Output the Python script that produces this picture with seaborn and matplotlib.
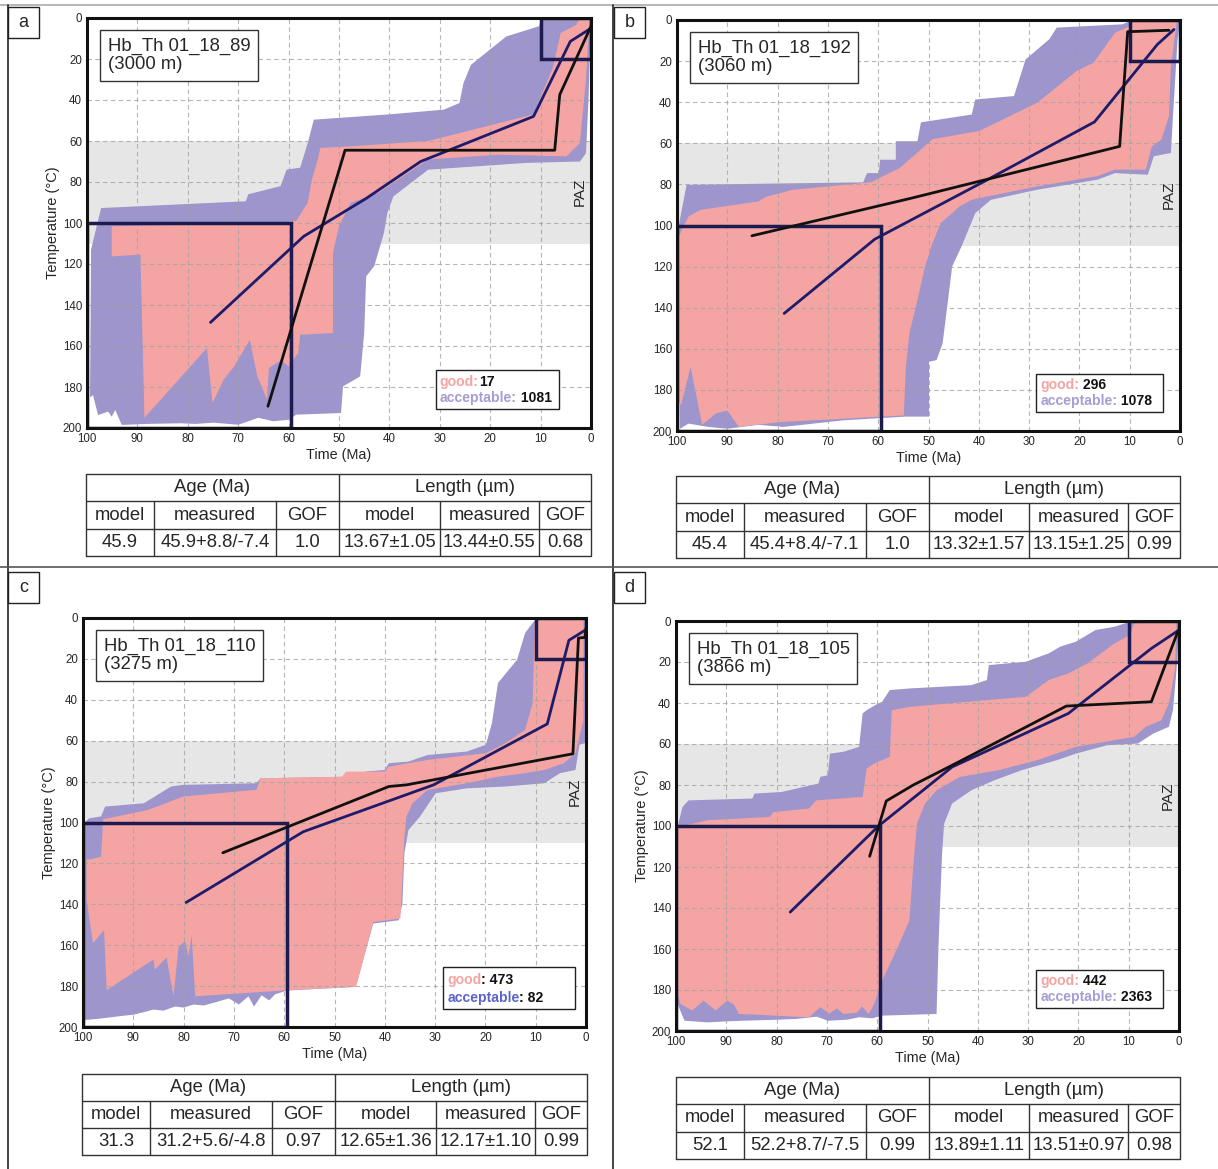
import matplotlib
matplotlib.use("Agg")
import matplotlib.pyplot as plt
from matplotlib.patches import Rectangle
from matplotlib.lines import Line2D
import seaborn as sns

# ---------------- data ----------------
PANELS = ["a", "b", "c", "d"]
SAMPLES = ["Hb_Th 01_18_89", "Hb_Th 01_18_192", "Hb_Th 01_18_110", "Hb_Th 01_18_105"]
DEPTHS = ["(3000 m)", "(3060 m)", "(3275 m)", "(3866 m)"]

GOOD_LABEL = ["good:", "good:", "good", "good:"]
GOOD_NUM = ["17", " 296", ": 473", " 442"]
ACC_LABEL = ["acceptable:", "acceptable:", "acceptable", "acceptable:"]
ACC_NUM = [" 1081", " 1078", ": 82", " 2363"]

AGE_MODEL = ["45.9", "45.4", "31.3", "52.1"]
AGE_MEAS = ["45.9+8.8/-7.4", "45.4+8.4/-7.1", "31.2+5.6/-4.8", "52.2+8.7/-7.5"]
AGE_GOF = ["1.0", "1.0", "0.97", "0.99"]
LEN_MODEL = ["13.67±1.05", "13.32±1.57", "12.65±1.36", "13.89±1.11"]
LEN_MEAS = ["13.44±0.55", "13.15±1.25", "12.17±1.10", "13.51±0.97"]
LEN_GOF = ["0.68", "0.99", "0.99", "0.98"]

PAZ = (60, 110)
BOX_OLD = (59.5, 100, 100, 200)   # t young, t old, T top, T bottom
BOX_YOUNG = (0, 10, 0, 20)

# envelopes: outline (time Ma, temperature C)
A_ACC = [(99.2, 113), (97.2, 92.7), (68.5, 89.4), (68.0, 86), (61.6, 82), (60.4, 74), (57.7, 73),
         (56.2, 61), (55.0, 49.6), (40.0, 47), (29.2, 44.7), (26.1, 41.5), (25.3, 31.7), (23.8, 22.8),
         (16.8, 9), (10.3, 4), (9.9, 0), (0, 0), (0.5, 40), (1.0, 66), (2.2, 70), (13, 70.7),
         (32.3, 74), (39.2, 87), (40.4, 95), (41.1, 105), (43, 121), (44.6, 126), (45, 153.7),
         (45.8, 174.8), (49.2, 179.7), (49.6, 192.7), (58.5, 193.5), (60, 196), (63.1, 196.7),
         (66, 195), (68.3, 197), (70, 198.4), (74.9, 197.4), (78.5, 198), (81.5, 197.7), (88.1, 198),
         (93.1, 198.5), (94.4, 191.2), (95.1, 194.5), (95.8, 192), (97.8, 193.7), (98.8, 184), (99.4, 185)]
A_GOOD = [(95.1, 116.3), (95.1, 101.6), (62.3, 100), (58.5, 99), (56.2, 90), (55.4, 78.9), (54.2, 69),
          (53.7, 63.4), (47.7, 62.6), (32.3, 60), (11.4, 47), (7.6, 24.4), (6.0, 7.3), (2.9, 3.3),
          (2.2, 0), (0.3, 0), (1.0, 30), (2.2, 61), (4.9, 67.5), (18.4, 66.7), (32.3, 69), (42.3, 85.4),
          (47.7, 90.2), (50.0, 101.6), (51.2, 114.6), (51.2, 153.7), (57.7, 154.5), (58.1, 163.4),
          (60.0, 170), (61.5, 167), (63.9, 170.7), (64.3, 186), (66.2, 174.8), (67.7, 157), (70.8, 170),
          (72.8, 176), (75.1, 187.8), (76.2, 161), (88.6, 195), (89.4, 115.4)]
B_ACC = [(99.8, 102), (98.1, 80.2), (63, 79), (62.2, 74.5), (59.9, 74.5), (59.6, 68), (56.5, 68),
         (56.5, 59), (52.2, 59), (51.5, 49.8), (41.4, 46), (40.7, 38.7), (33, 37), (30.7, 19.2),
         (26, 9.4), (24.5, 3.7), (11.4, 2.1), (9.5, 0), (0, 0), (0.5, 10), (1.4, 46.8), (1.8, 64.7),
         (5.2, 66.3), (6.4, 75.3), (12.9, 74.5), (16.4, 77.7), (28.4, 82.6), (37.6, 87.5), (40.7, 94),
         (41.8, 100.5), (43.4, 110), (45.3, 120), (46.1, 136), (47.2, 157.4), (48.4, 165.5),
         (49.9, 166.3), (49.9, 193), (54.5, 193), (66.9, 194.8), (78.8, 198), (83.8, 197), (90, 198.9),
         (93.8, 198), (97.7, 196.4), (99.4, 198.9)]
B_GOOD = [(99.8, 106), (97.7, 95.6), (95.4, 92.4), (83.8, 88.3), (82.3, 86), (76.9, 82.6), (61.5, 79),
          (55.7, 72), (51.5, 63), (49.2, 58), (39.9, 54), (35.3, 48.5), (28.4, 40.3), (20.6, 24.9),
          (17.2, 20.8), (12.9, 6.2), (9.9, 2.9), (9.1, 0), (0.6, 0), (1.8, 22.4), (2.2, 46.8),
          (3.7, 58.2), (5.6, 61.5), (6.8, 72.8), (12.9, 72.8), (16.4, 76), (28.4, 81), (38.4, 85.9),
          (41.4, 87.5), (43.8, 90.7), (45.3, 94), (47.6, 98.9), (49.2, 108.6), (50.7, 120),
          (52.2, 136.3), (53.8, 152.5), (54.5, 168.8), (54.9, 192.4), (66.9, 194), (79.2, 195.6),
          (87.7, 198), (90, 190), (92.3, 191.5), (95, 197), (97.3, 168.8), (99.2, 187.5), (99.8, 185)]
C_ACC = [(99.8, 100.4), (98.8, 98), (96.4, 97), (95.6, 92.2), (87.9, 90.6), (82.5, 82.4), (80.1, 81.6),
         (65.5, 80.8), (64.7, 78.4), (46.9, 77.6), (43.8, 75.1), (40, 74.3), (39.2, 71), (35.3, 70.2),
         (31.5, 67), (23.7, 65.3), (19.9, 62), (18.7, 51.4), (17.5, 31.8), (13.7, 20.4), (12.1, 7.3),
         (10.6, 2.4), (9.8, 0), (0, 0), (0.2, 61.2), (1.3, 62), (2.1, 74.3), (5.2, 75.9), (8.3, 80.8),
         (16, 82.4), (23.7, 83.3), (29.9, 85.7), (33, 97.1), (35.3, 103.7), (36.1, 115), (36.5, 139.6),
         (37.2, 147.8), (42.3, 149.4), (45.4, 177), (46.1, 180.4), (59.5, 182.2), (61.8, 184),
         (63, 187), (64.5, 184.5), (66, 190), (67.1, 185), (69, 189), (71, 186), (73.8, 188), (76, 189.5),
         (78, 189), (80, 190.5), (81.7, 190), (84, 192), (86, 191.5), (88.3, 193), (90, 194),
         (92, 194.5), (95.3, 195.5), (97, 196), (99.8, 196.6)]
C_GOOD = [(99.3, 118), (98.5, 118), (96.4, 116.7), (96, 98.4), (87.1, 93.9), (80.1, 87.3), (65.5, 84),
          (64.7, 78.4), (48.5, 77.6), (47.7, 75.1), (40, 75.1), (39.2, 72.7), (31.5, 69.4), (19.9, 66.1),
          (16, 61.2), (12.1, 54.7), (10.6, 41.6), (10.2, 2.4), (9, 0.8), (0.5, 0.8), (0.5, 49.8),
          (2.1, 66.1), (4.4, 71), (8.3, 74.3), (12.1, 75.9), (17.5, 77.6), (23.7, 80.8), (31.5, 84.1),
          (34.5, 90.6), (35.7, 97.1), (36.1, 106.9), (36.9, 147), (42.3, 148.6), (45.7, 180.4),
          (59.2, 182), (77.7, 185), (78.4, 155), (79, 165.5), (79.7, 158), (81, 160.7), (82, 185),
          (83.4, 166), (85.7, 172), (86, 167), (95.3, 182), (95.8, 152.6), (98, 159), (99.3, 138)]
D_ACC = [(99.7, 100.5), (98.7, 90.7), (97.5, 87.5), (84.8, 86.6), (84.4, 84.2), (79, 83.4), (71.7, 79.3),
         (71.3, 76), (69.8, 75.2), (69.4, 64.7), (66.7, 63.8), (63.6, 61.4), (62.9, 45.1), (62.1, 43.5),
         (59.8, 40.2), (59, 39.4), (57.5, 33.7), (53.6, 32.9), (41.3, 31.3), (38.2, 28.8), (37.8, 21.5),
         (30.5, 19.9), (25.9, 15.8), (23.6, 12.5), (20.5, 10.1), (16.6, 4.4), (12.8, 2.8), (9.7, 0.3),
         (0, 0), (0.5, 24), (1.2, 43.5), (2, 51.6), (5.1, 54.9), (8.2, 59.8), (14.3, 60.6), (20.5, 64.7),
         (24.3, 67.9), (31.3, 72.8), (36.7, 77.7), (41.3, 82.6), (45.1, 89), (46.7, 98.9), (47.1, 113.5),
         (47.5, 138), (47.8, 157.5), (48.2, 191.7), (59, 192.5), (61, 193.8), (63.6, 193.3), (66, 194.5),
         (69.8, 195), (72, 193), (76, 194.1), (80, 194.5), (86.7, 195), (90, 195.3), (93.7, 195.8),
         (98.3, 195), (99.7, 186.8)]
D_GOOD = [(99.7, 100.5), (93.7, 97.2), (81.4, 95.6), (80.6, 93.2), (73.6, 91.5), (72.1, 87.5),
          (62.9, 85.8), (62.1, 72), (60.6, 69.5), (57.5, 66.3), (57.1, 43.5), (53.6, 41.9), (38.2, 38.6),
          (30.5, 37), (25.9, 28.8), (22, 25.6), (18.2, 20.7), (12.8, 10.9), (9.7, 6.8), (8.9, 1.1),
          (0.5, 0.3), (0.8, 24), (2, 40.2), (3.5, 48.4), (6.6, 51.6), (8.9, 56.5), (12.8, 58.1),
          (20.5, 61.4), (28.2, 67.9), (35.9, 72.8), (43.6, 76.1), (48.2, 82.6), (50.5, 89.1),
          (52.1, 98.9), (52.9, 121.7), (53.6, 146.1), (55.9, 159.1), (59, 175.4), (60.6, 186.8),
          (61.7, 191.7), (63, 188), (64, 191), (66.7, 191.7), (68, 189), (69.5, 191.5), (71.3, 188.4),
          (73.6, 193.3), (80.6, 192.5), (84, 192), (87.5, 191.7), (88.5, 187), (89.8, 185.2),
          (92.1, 190), (94.5, 185.2), (96.8, 190), (99.1, 186.8), (99.7, 181.9)]

# weighted mean path (blue) and best fit path (black)
A_BLUE_T = [75.5, 57, 44.6, 33.8, 11.4, 4.1, 0]
A_BLUE_Y = [148.5, 106.5, 88, 70, 48, 11.4, 5]
A_BLACK_T = [64.1, 48.8, 7.2, 6.2, 0]
A_BLACK_Y = [189.4, 64.5, 64.5, 37.4, 4]
B_BLUE_T = [78.7, 60.7, 38.5, 17.0, 4.5, 1.2]
B_BLUE_Y = [142.8, 106.7, 78, 49.6, 11.9, 4.6]
B_BLACK_T = [85.1, 53.4, 12.0, 10.4, 2.2]
B_BLACK_Y = [105, 86.7, 61.5, 5.7, 5.0]
C_BLUE_T = [79.5, 56.2, 30.3, 7.7, 3.4, 0]
C_BLUE_Y = [139.1, 104.5, 81.6, 51.8, 10.9, 5.7]
C_BLACK_T = [72.2, 39.2, 35.7, 2.6, 1.5, 0.2, 0]
C_BLACK_Y = [114.8, 82.4, 81.6, 66.4, 9.8, 9.5, 5]
D_BLUE_T = [77.3, 59.6, 45.1, 22.0, 5.5, 0]
D_BLUE_Y = [142, 99.7, 71.2, 45.1, 13.4, 4.4]
D_BLACK_T = [61.5, 58.2, 52.9, 44.4, 22.4, 5.5, 0.2]
D_BLACK_Y = [114.8, 87.8, 80.1, 69.5, 41.5, 39.4, 4.9]

ACC_ENV = [A_ACC, B_ACC, C_ACC, D_ACC]
GOOD_ENV = [A_GOOD, B_GOOD, C_GOOD, D_GOOD]
BLUE = [(A_BLUE_T, A_BLUE_Y), (B_BLUE_T, B_BLUE_Y), (C_BLUE_T, C_BLUE_Y), (D_BLUE_T, D_BLUE_Y)]
BLACK = [(A_BLACK_T, A_BLACK_Y), (B_BLACK_T, B_BLACK_Y), (C_BLACK_T, C_BLACK_Y), (D_BLACK_T, D_BLACK_Y)]

# ---------------- layout ----------------
W, H = 1218, 1169
AX_PX = [(87, 18, 591, 428), (677, 20, 1180, 431), (83, 618, 586, 1027), (676, 621, 1179, 1031)]
TAB_PX = [(86, 474, 591, 556), (676, 476, 1180, 558), (82, 1074, 587, 1155), (676, 1077, 1180, 1159)]
LABEL_PX = [(8, 7), (614, 7), (8, 572), (614, 572)]
LEG_BOX = [(0.692, 0.046, 0.245, 0.095), (0.714, 0.046, 0.252, 0.093),
           (0.716, 0.044, 0.262, 0.103), (0.716, 0.056, 0.252, 0.093)]
COL_EDGES = [0, 0.135, 0.376, 0.501, 0.701, 0.897, 1.0]

PINK = "#f4a5a3"
PURPLE = "#9d95cb"
ACC_TXT = ["#a69ed3", "#a69ed3", "#5c63cc", "#a69ed3"]
NAVY = "#1e1b6b"
BOXC = "#1c1a4f"

sns.set_style("white")
plt.rcParams["font.family"] = ["Liberation Sans", "DejaVu Sans"]

fig = plt.figure(figsize=(W / 100, H / 100), dpi=100)


def fx(x):
    return x / W


def fy(y):
    return 1 - y / H


# frame lines
for (x0, y0, x1, y1, c) in [(0, 5, W, 5, "#aaaaaa"), (8, 5, 8, H, "#222222"),
                            (613, 5, 613, H, "#222222"), (0, 567, W, 567, "#555555")]:
    fig.add_artist(Line2D([fx(x0), fx(x1)], [fy(y0), fy(y1)], color=c, lw=1.2))

for i in range(4):
    x0, y0, x1, y1 = AX_PX[i]
    ax = fig.add_axes([fx(x0), fy(y1), fx(x1 - x0), (y1 - y0) / H])
    ax.axhspan(PAZ[0], PAZ[1], color="#e6e6e6", lw=0, zorder=0.5)
    ax.fill([p[0] for p in ACC_ENV[i]], [p[1] for p in ACC_ENV[i]], color=PURPLE, lw=0, zorder=1)
    ax.fill([p[0] for p in GOOD_ENV[i]], [p[1] for p in GOOD_ENV[i]], color=PINK, lw=0, zorder=1.1)

    for (ty, to, Tt, Tb) in [BOX_OLD, BOX_YOUNG]:
        ax.add_patch(Rectangle((ty, Tt), to - ty, Tb - Tt, fill=False, ec=BOXC, lw=2.5, zorder=3.5))

    sns.lineplot(x=BLUE[i][0], y=BLUE[i][1], sort=False, estimator=None, color=NAVY, lw=2, ax=ax, zorder=4)
    sns.lineplot(x=BLACK[i][0], y=BLACK[i][1], sort=False, estimator=None, color="#111111", lw=2, ax=ax, zorder=4.1)

    ax.set_xlim(100, 0)
    ax.set_ylim(200, 0)
    ax.set_xticks(range(0, 101, 10))
    ax.set_yticks(range(0, 201, 20))
    ax.grid(True, color="#a3a3a3", ls=(0, (4, 3)), lw=0.8, alpha=0.8)
    ax.set_axisbelow(False)
    ax.tick_params(labelsize=8.3, length=0, pad=3.5)
    for s in ax.spines.values():
        s.set_linewidth(2.2)
        s.set_color("#111111")
        s.set_zorder(5)
    ax.set_xlabel("Time (Ma)", fontsize=10.4, labelpad=2.5)
    if i != 1:
        ax.set_ylabel("Temperature (°C)", fontsize=10.5, labelpad=2)
    else:
        ax.set_ylabel("")

    ax.text(2.3, 85, "PAZ", rotation=90, ha="center", va="center", fontsize=11, zorder=6)

    ax.text(0.041, 0.952, SAMPLES[i] + "\n" + DEPTHS[i], transform=ax.transAxes, ha="left", va="top",
            fontsize=13.3, linespacing=1.1, zorder=7,
            bbox=dict(boxstyle="square,pad=0.4", fc="white", ec="#333333", lw=1))

    # legend box
    lx, ly, lw_, lh = LEG_BOX[i]
    ax.add_patch(Rectangle((lx, ly), lw_, lh, transform=ax.transAxes, fc="white", ec="#222222",
                           lw=1, zorder=6))
    for row, (lab, num, col) in enumerate([(GOOD_LABEL[i], GOOD_NUM[i], PINK),
                                           (ACC_LABEL[i], ACC_NUM[i], ACC_TXT[i])]):
        yy = ly + lh * (0.52 if row == 0 else 0.1)
        t = ax.text(lx + 0.008, yy, lab, transform=ax.transAxes, color=col, fontsize=10.1,
                    fontweight="bold", va="bottom", ha="left", zorder=7)
        ax.annotate(num, xy=(1, 0), xycoords=t, va="bottom", ha="left", fontsize=10.1,
                    fontweight="bold", color="#111111", zorder=7)

    # panel letter
    lxp, lyp = LABEL_PX[i]
    fig.add_artist(Rectangle((fx(lxp), fy(lyp + 31)), 31 / W, 31 / H, transform=fig.transFigure,
                             fc="white", ec="#222222", lw=1))
    fig.text(fx(lxp + 15.5), fy(lyp + 15.5), PANELS[i], ha="center", va="center", fontsize=13)

    # table
    x0, y0, x1, y1 = TAB_PX[i]
    tb = fig.add_axes([fx(x0), fy(y1), fx(x1 - x0), (y1 - y0) / H])
    tb.set_xlim(0, 1)
    tb.set_ylim(0, 3)
    tb.axis("off")
    lc = dict(color="#333333", lw=1)
    tb.plot([0, 1, 1, 0, 0], [0, 0, 3, 3, 0], **lc, clip_on=False)
    tb.plot([0, 1], [1, 1], **lc)
    tb.plot([0, 1], [2, 2], **lc)
    for e in COL_EDGES[1:-1]:
        top = 3 if e == COL_EDGES[3] else 2
        tb.plot([e, e], [0, top], **lc)
    tb.text(COL_EDGES[3] / 2, 2.5, "Age (Ma)", ha="center", va="center", fontsize=13.3)
    tb.text((COL_EDGES[3] + 1) / 2, 2.5, "Length (µm)", ha="center", va="center", fontsize=13.3)
    heads = ["model", "measured", "GOF", "model", "measured", "GOF"]
    vals = [AGE_MODEL[i], AGE_MEAS[i], AGE_GOF[i], LEN_MODEL[i], LEN_MEAS[i], LEN_GOF[i]]
    for k in range(6):
        cx = (COL_EDGES[k] + COL_EDGES[k + 1]) / 2
        tb.text(cx, 1.5, heads[k], ha="center", va="center", fontsize=13.3)
        tb.text(cx, 0.5, vals[k], ha="center", va="center", fontsize=13.3)

fig.savefig("out.png", dpi=100, facecolor="white")
